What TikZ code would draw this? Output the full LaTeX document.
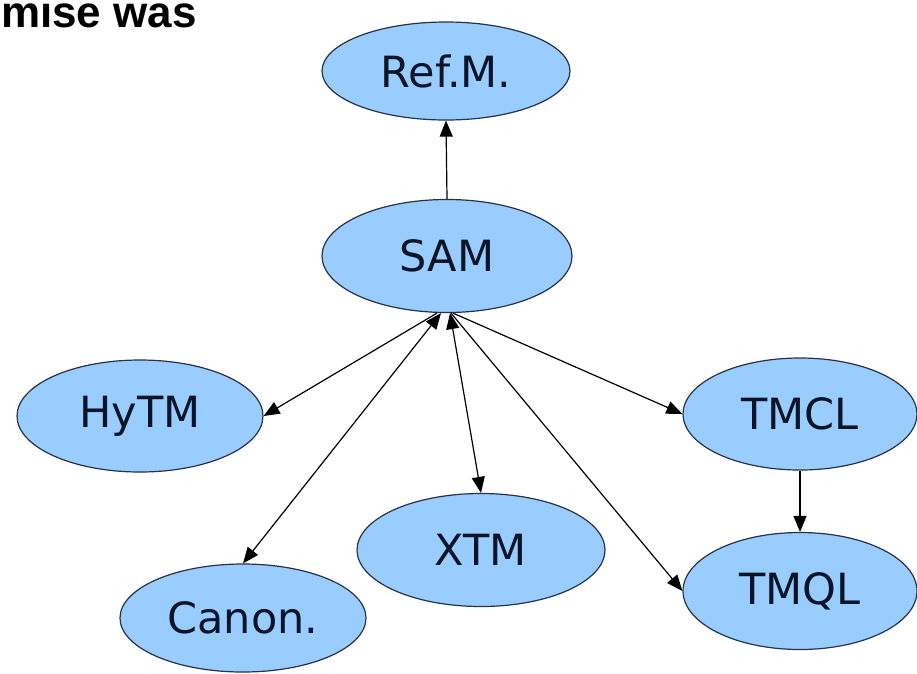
\documentclass[tikz,border=0pt]{standalone}
\usepackage{fontspec}
\setmainfont{DejaVu Sans}
\newfontfamily\headfont{Liberation Sans}
\usetikzlibrary{shapes.geometric,arrows.meta}
\definecolor{nodefill}{RGB}{153,204,255}
\definecolor{nodeline}{RGB}{40,50,70}
\definecolor{nodetext}{RGB}{10,20,40}
\begin{document}
\begin{tikzpicture}[x=1pt,y=-1pt,
  topic/.style={ellipse,draw=nodeline,line width=1.2pt,fill=nodefill,
    text=nodetext,inner sep=0pt,font=\fontsize{43}{43}\selectfont},
  link/.style={line width=1.2pt,-{Triangle[length=16pt,width=13pt]}},
  both/.style={line width=1.2pt,{Triangle[length=16pt,width=13pt]}-{Triangle[length=16pt,width=13pt]}}]
\useasboundingbox (0,0) rectangle (917,673);

% heading fragment, cut by the page edge
\node[anchor=base east,inner sep=0pt,font=\headfont\bfseries\fontsize{44}{44}\selectfont]
  (head) at (197,27) {mise was};

% topics
\node[topic,minimum width=248pt,minimum height=98pt]  (RefM)  at (446,71)  {Ref.M.};
\node[topic,minimum width=250pt,minimum height=113pt] (SAM)   at (447,256) {SAM};
\node[topic,minimum width=246pt,minimum height=112pt] (HyTM)  at (140,416) {HyTM};
\node[topic,minimum width=248pt,minimum height=113pt] (XTM)   at (481,550) {XTM};
\node[topic,minimum width=246pt,minimum height=108pt] (Canon) at (243,618) {Canon.};
\node[topic,minimum width=234pt,minimum height=112pt] (TMCL)  at (800,414) {TMCL};
\node[topic,minimum width=234pt,minimum height=117pt] (TMQL)  at (800,591) {TMQL};

% connectors
\draw[link] (SAM.north) -- (RefM.south);
\draw[link] ([xshift=-10pt]SAM.south) -- (HyTM.east);
\draw[both] ([xshift=-6pt]SAM.south) -- (Canon.north);
\draw[both] ([xshift=3pt]SAM.south) -- (XTM.north);
\draw[link] ([xshift=6pt]SAM.south) -- (TMCL.west);
\draw[link] ([xshift=4pt]SAM.south) -- (TMQL.west);
\draw[link] (TMCL.south) -- (TMQL.north);
\end{tikzpicture}
\end{document}
